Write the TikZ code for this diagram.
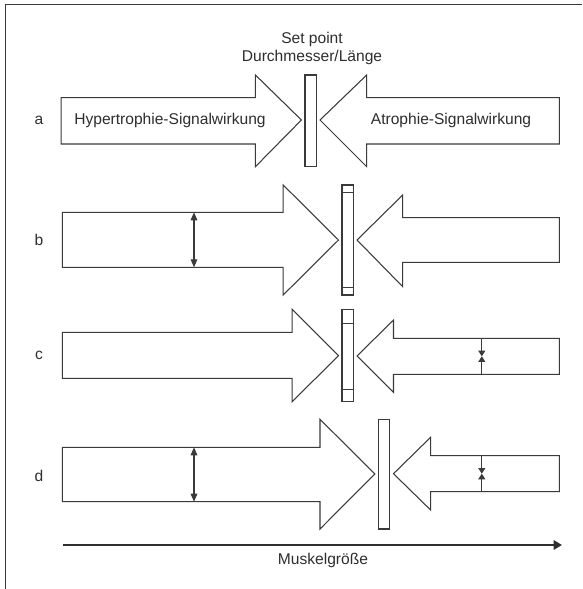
\documentclass[tikz,border=0pt]{standalone}
\usepackage{fontspec}
\setmainfont{Liberation Sans}
\usepackage{tikz}
\usetikzlibrary{arrows.meta}
\definecolor{outline}{HTML}{3A3A3A}
\definecolor{labeltext}{HTML}{2E2E2E}

\begin{document}
\begin{tikzpicture}[x=0.03cm, y=-0.03cm, signal/.style={draw=outline, line width=0.9pt, fill=white, line join=miter}, setbar/.style={draw=outline, line width=0.9pt, fill=white}, lbl/.style={text=labeltext, font=\fontsize{13.3}{15.4}\selectfont, inner sep=0pt, align=center}, span/.style={draw=outline, line width=0.9pt, {Triangle[length=2.4mm,width=2mm]}-{Triangle[length=2.4mm,width=2mm]}}, squeeze/.style={draw=outline, line width=0.9pt, -{Triangle[length=1.7mm,width=2.1mm]}}, axis/.style={draw=outline!80!black, line width=2.4pt, -{Triangle[length=2.5mm,width=2.8mm]}}]
\useasboundingbox (0,0) rectangle (582,589);
\draw[outline, line width=1.1pt] (5.6,589) -- (5.6,4.3) -- (582,4.3);
\node[lbl] (setpt) at (312,48.3) {Set point\\Durchmesser/Länge};
% a
\node[lbl] (la) at (39,120) {a};
\draw[signal] (61.2,97.7) -- (255.4,97.7) -- (255.4,75) -- (301.4,120) -- (255.4,166.7) -- (255.4,144) -- (61.2,144) -- cycle;
\draw[signal] (559.4,97.7) -- (366.7,97.7) -- (366.7,75) -- (320,120) -- (366.7,166.7) -- (366.7,144) -- (559.4,144) -- cycle;
\draw[setbar] (305,75) rectangle (316.3,166.7);
\node[lbl] (hyper) at (170,120) {Hypertrophie-Signalwirkung};
\node[lbl] (atro) at (451,120) {Atrophie-Signalwirkung};
% b
\node[lbl] (lb) at (39,240) {b};
\draw[signal] (62.4,212.3) -- (283.2,212.3) -- (283.2,185) -- (338.5,240) -- (283.2,295) -- (283.2,267.3) -- (62.4,267.3) -- cycle;
\draw[signal] (559.4,217.7) -- (402.7,217.7) -- (402.7,195) -- (357,240) -- (402.7,286.7) -- (402.7,262.3) -- (559.4,262.3) -- cycle;
\draw[setbar] (342,185) rectangle (353.4,295);
\draw[outline, line width=0.9pt] (342,192.7) -- (353.4,192.7) (342,287.3) -- (353.4,287.3);
\coordinate (bup) at (194,212.3);
\coordinate (bdown) at (194,267.3);
\draw[span] (bup) -- (bdown);
% c
\node[lbl] (lc) at (39,355.7) {c};
\draw[signal] (62.4,332.3) -- (292.1,332.3) -- (292.1,309.3) -- (338.5,355.7) -- (292.1,401.7) -- (292.1,378.3) -- (62.4,378.3) -- cycle;
\draw[signal] (559.4,338.3) -- (393.5,338.3) -- (393.5,320) -- (357,356) -- (393.5,392.3) -- (393.5,374.3) -- (559.4,374.3) -- cycle;
\draw[setbar] (342,309.3) rectangle (353.4,401.7);
\draw[outline, line width=0.9pt] (342,323.3) -- (353.4,323.3) (342,389.3) -- (353.4,389.3);
\coordinate (cup) at (481.8,338.3);
\coordinate (cmid) at (481.8,356.3);
\coordinate (cdown) at (481.8,374.3);
\draw[squeeze] (cup) -- (cmid);
\draw[squeeze] (cdown) -- (cmid);
% d
\node[lbl] (ld) at (39,476) {d};
\draw[signal] (62.4,447.3) -- (320,447.3) -- (320,419.3) -- (374.9,474) -- (320,529) -- (320,501.7) -- (62.4,501.7) -- cycle;
\draw[signal] (559.4,455.7) -- (430.6,455.7) -- (430.6,437.3) -- (393.5,473.7) -- (430.6,510) -- (430.6,491.7) -- (559.4,491.7) -- cycle;
\draw[setbar] (378.6,419.3) rectangle (389.8,529);
\coordinate (dup) at (194,447.3);
\coordinate (ddown) at (194,501.7);
\draw[span] (dup) -- (ddown);
\coordinate (dsup) at (481.8,455.7);
\coordinate (dsmid) at (481.8,473.7);
\coordinate (dsdown) at (481.8,491.7);
\draw[squeeze] (dsup) -- (dsmid);
\draw[squeeze] (dsdown) -- (dsmid);
% Achse
\coordinate (ax0) at (62.7,545);
\coordinate (ax1) at (562,545);
\draw[axis] (ax0) -- (ax1);
\node[lbl] (muskel) at (323,560) {Muskelgröße};
\end{tikzpicture}
\end{document}
